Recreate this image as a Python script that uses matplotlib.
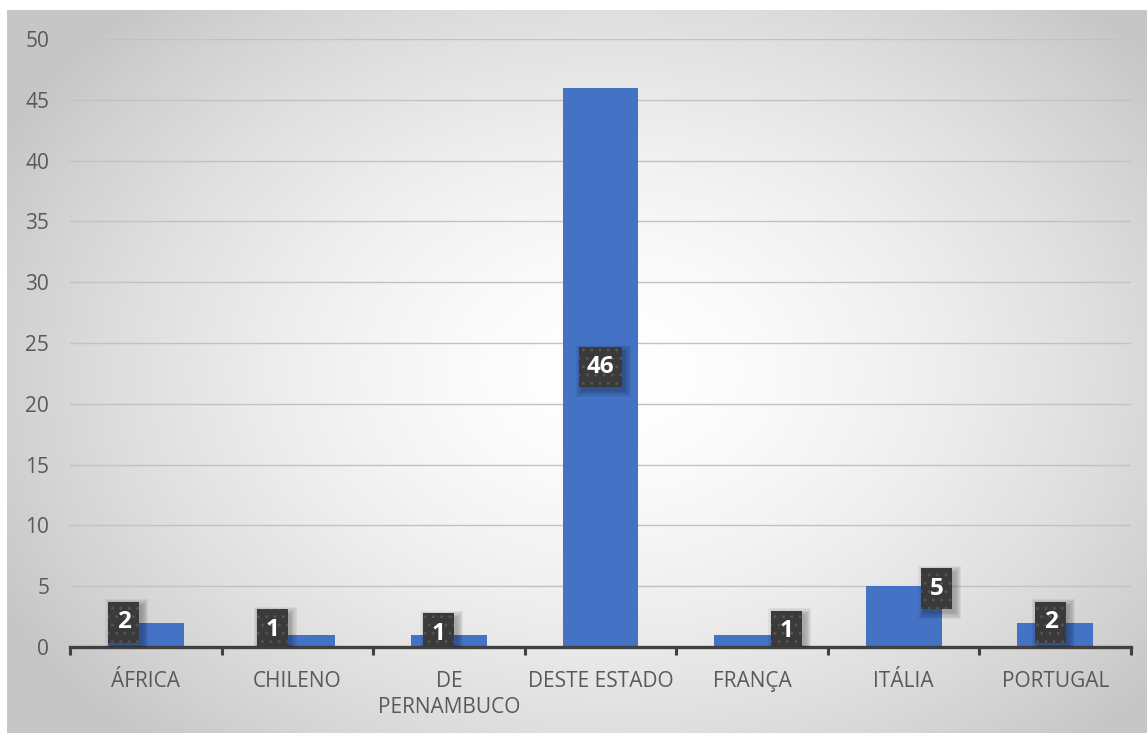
import numpy as np
import matplotlib.pyplot as plt
import matplotlib.transforms as mtransforms
from matplotlib.patches import Rectangle

plt.rcParams['font.family'] = ['Open Sans', 'DejaVu Sans']
plt.rcParams['hatch.linewidth'] = 0.9

categorias = ['ÁFRICA', 'CHILENO', 'DE\nPERNAMBUCO', 'DESTE ESTADO',
              'FRANÇA', 'ITÁLIA', 'PORTUGAL']
valores = [2, 1, 1, 46, 1, 5, 2]

# where each data label box sits (x shift from bar centre, y in data units)
rot_dx = [-0.145, -0.165, -0.066, 0.0, 0.23, 0.22, -0.03]
rot_y = [2.05, 1.4, 1.07, 23.0, 1.3, 4.77, 2.05]

W, H = 1147, 733
fig = plt.figure(figsize=(W / 100, H / 100), dpi=100)

# radial grey background of the chart frame
bg = fig.add_axes([7 / W, 0, (W - 7) / W, (H - 10) / H], zorder=-10)
ny, nx = 400, 600
yy, xx = np.mgrid[0:ny, 0:nx]
cx, cy = 0.53 * nx, 0.50 * ny
r = np.sqrt(((xx - cx) / (0.60 * nx)) ** 2 + ((yy - cy) / (0.70 * ny)) ** 2)
g = 1.0 - 0.22 * np.clip(r, 0, 1) ** 1.6
bg.imshow(np.dstack([g, g, g]), aspect='auto', interpolation='bilinear')
bg.set_axis_off()

ax = fig.add_axes([70 / W, 1 - 647 / H, 1061 / W, (647 - 39) / H])
ax.patch.set_alpha(0)

x = np.arange(len(categorias))
ax.bar(x, valores, width=0.5, color='#4472C4', zorder=3)

ax.set_xlim(-0.5, len(categorias) - 0.5)
ax.set_ylim(0, 50)
ax.set_yticks(np.arange(0, 51, 5))
ax.yaxis.grid(True, color='#c2c2c2', linewidth=1.0, zorder=0)
ax.set_axisbelow(True)

for s in ['top', 'right', 'left']:
    ax.spines[s].set_visible(False)
ax.spines['bottom'].set_color('#404040')
ax.spines['bottom'].set_linewidth(2.4)
ax.spines['bottom'].set_zorder(4)

ax.set_xticks(x)
ax.set_xticklabels(categorias, linespacing=1.35)
ax.set_xticks(np.arange(-0.5, len(categorias)), minor=True)
ax.tick_params(axis='x', which='major', length=0, pad=17,
               labelsize=15, labelcolor='#595959')
ax.tick_params(axis='x', which='minor', length=6, width=2.2, color='#404040')
ax.tick_params(axis='y', length=0, pad=15, labelsize=15, labelcolor='#595959')

# data labels: dark dotted boxes with a soft drop shadow
for i, v in enumerate(valores):
    bx, by = i + rot_dx[i], rot_y[i]
    w = 0.31 if len(str(v)) == 1 else 0.43
    h = 0.41 if len(str(v)) == 1 else 0.40
    tr = fig.dpi_scale_trans + mtransforms.ScaledTranslation(bx, by, ax.transData)
    for k in range(6):
        e = 0.012 * k
        ax.add_patch(Rectangle((-w / 2 + 0.03 - e, -h / 2 - 0.035 - e),
                               w + 2 * e, h + 2 * e, transform=tr,
                               facecolor='black', alpha=0.05, linewidth=0,
                               zorder=5))
    ax.add_patch(Rectangle((-w / 2, -h / 2), w, h, transform=tr,
                           facecolor='#3a3a3a', edgecolor='#555555',
                           linewidth=0, hatch='..', zorder=6))
    ax.text(bx, by, str(v), ha='center', va='center', fontsize=17.5,
            fontweight='bold', color='white', zorder=7)

fig.savefig('out.png', dpi=100)
